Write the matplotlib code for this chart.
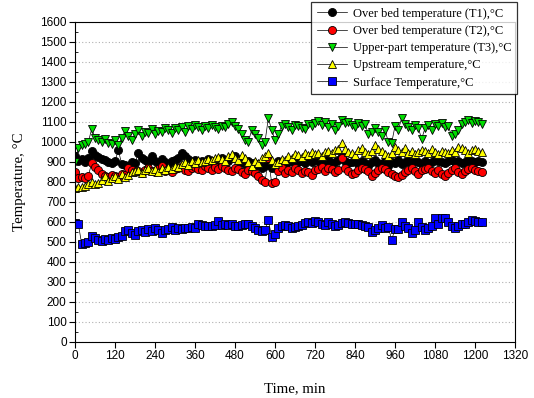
import matplotlib
matplotlib.use('Agg')
import matplotlib.pyplot as plt
import numpy as np
from matplotlib.ticker import MultipleLocator

# readings every 10 min, 0 .. 1220 min
interval = 10

t1_over_bed = [930, 905, 915, 900, 920, 955, 935, 925, 915, 910,
               900, 895, 905, 960, 890, 885, 880, 900, 895, 945,
               920, 910, 900, 930, 905, 895, 915, 900, 890, 905,
               910, 920, 945, 930, 915, 900, 910, 895, 905, 900,
               915, 905, 900, 910, 920, 895, 905, 920, 930, 910,
               900, 890, 905, 895, 880, 890, 870, 880, 900, 870,
               890, 905, 895, 880, 900, 910, 890, 900, 905, 895,
               910, 900, 920, 905, 890, 900, 915, 895, 900, 910,
               930, 905, 895, 900, 910, 890, 905, 895, 880, 900,
               910, 895, 890, 905, 880, 900, 895, 910, 890, 900,
               905, 895, 910, 900, 890, 905, 895, 900, 910, 905,
               900, 895, 905, 910, 900, 905, 895, 900, 910, 905,
               900, 905, 900]

t2_over_bed = [850, 820, 825, 820, 830, 895, 875, 860, 840, 830,
               825, 835, 830, 825, 840, 835, 870, 860, 850, 855,
               845, 860, 870, 855, 850, 865, 880, 855, 860, 850,
               865, 870, 880, 860, 855, 870, 875, 865, 860, 880,
               870, 860, 875, 865, 880, 870, 860, 855, 870, 865,
               850, 840, 860, 855, 845, 830, 810, 800, 920, 795,
               800, 855, 870, 845, 860, 850, 870, 860, 845, 855,
               850, 835, 860, 865, 875, 855, 870, 865, 850, 860,
               920, 870, 855, 840, 845, 860, 870, 865, 855, 830,
               845, 860, 870, 865, 850, 840, 830, 825, 835, 850,
               860, 870, 855, 840, 860, 865, 870, 855, 845, 860,
               840, 830, 845, 860, 870, 850, 840, 855, 865, 870,
               860, 855, 850]

t3_upper = [900, 970, 985, 990, 1000, 1065, 1020, 1010, 1000, 1015,
            995, 990, 1010, 985, 1020, 1055, 1030, 1010, 1040, 1060,
            1030, 1050, 1045, 1065, 1040, 1055, 1050, 1070, 1060, 1045,
            1070, 1060, 1075, 1050, 1080, 1065, 1085, 1075, 1060, 1080,
            1070, 1085, 1075, 1065, 1080, 1075, 1090, 1100, 1080, 1065,
            1040, 1010, 1000, 1060, 1040, 1020, 985, 1000, 1120, 1060,
            1010, 1040, 1080, 1090, 1075, 1060, 1085, 1080, 1070, 1065,
            1090, 1080, 1095, 1105, 1085, 1100, 1075, 1090, 1060, 1080,
            1110, 1095, 1100, 1085, 1075, 1095, 1080, 1090, 1040, 1050,
            1070, 1050, 1030, 1060, 1000, 995, 1080, 1060, 1120, 1090,
            1075, 1060, 1085, 1070, 1015, 1070, 1085, 1060, 1090, 1080,
            1095, 1075, 1080, 1030, 1040, 1060, 1090, 1100, 1110, 1095,
            1105, 1100, 1090]

upstream = [770, 775, 775, 780, 790, 800, 790, 795, 810, 830,
            805, 820, 830, 815, 840, 825, 835, 850, 855, 860,
            845, 860, 870, 855, 865, 850, 870, 860, 875, 865,
            880, 875, 890, 900, 885, 905, 895, 910, 900, 905,
            915, 910, 920, 925, 915, 905, 930, 940, 920, 910,
            935, 920, 900, 880, 905, 895, 920, 930, 945, 910,
            890, 900, 915, 910, 930, 920, 940, 935, 925, 945,
            935, 950, 940, 945, 930, 950, 955, 945, 960, 965,
            995, 965, 950, 945, 935, 960, 970, 950, 940, 955,
            985, 965, 955, 940, 930, 945, 975, 960, 950, 970,
            945, 955, 940, 950, 960, 955, 945, 965, 950, 940,
            955, 950, 945, 960, 950, 975, 970, 960, 945, 960,
            965, 955, 950]

surface = [595, 590, 490, 495, 500, 530, 520, 510, 505, 515,
           510, 520, 515, 525, 530, 555, 560, 545, 535, 555,
           560, 550, 565, 555, 570, 560, 545, 560, 565, 575,
           560, 570, 565, 570, 570, 575, 570, 590, 585, 580,
           580, 580, 585, 605, 585, 590, 585, 590, 580, 580,
           585, 590, 590, 580, 570, 560, 555, 560, 610, 525,
           540, 570, 580, 585, 580, 570, 575, 580, 585, 595,
           600, 595, 605, 600, 590, 585, 600, 590, 580, 585,
           595, 600, 595, 590, 590, 590, 585, 580, 575, 550,
           560, 570, 585, 570, 575, 510, 565, 565, 600, 580,
           570, 545, 560, 600, 575, 560, 570, 580, 620, 590,
           620, 620, 600, 580, 570, 580, 590, 590, 600, 610,
           605, 600, 600]

time_min = np.arange(len(surface)) * interval

series = [
    (t1_over_bed, 'o', 'black', 'Over bed temperature (T1),°C'),
    (t2_over_bed, 'o', 'red', 'Over bed temperature (T2),°C'),
    (t3_upper, 'v', '#00dd00', 'Upper-part temperature (T3),°C'),
    (upstream, '^', 'yellow', 'Upstream temperature,°C'),
    (surface, 's', 'blue', 'Surface Temperature,°C'),
]

fig = plt.figure(figsize=(5.34, 3.98), dpi=100)
ax = fig.add_axes([75/534, 56/398, 440/534, 320/398])

for vals, mk, col, lab in series:
    ax.plot(time_min, vals, '-', color='black', lw=0.5, marker=mk,
            markerfacecolor=col, markeredgecolor='black', markeredgewidth=0.6,
            markersize=5.8, label=lab)

ax.set_xlim(0, 1320)
ax.set_ylim(0, 1600)
ax.xaxis.set_major_locator(MultipleLocator(120))
ax.yaxis.set_major_locator(MultipleLocator(100))
ax.yaxis.set_minor_locator(MultipleLocator(50))
ax.tick_params(axis='both', which='major', direction='out', length=4, width=0.8,
               labelsize=8.5, pad=2)
ax.tick_params(axis='y', which='minor', direction='in', length=2, width=0.6)
for lbl in ax.get_xticklabels() + ax.get_yticklabels():
    lbl.set_family('Liberation Sans')

ax.grid(True, axis='y', which='major', color='#b0b0b0', linestyle=(0, (1, 2)), lw=0.8)
ax.set_axisbelow(True)

for sp in ax.spines.values():
    sp.set_linewidth(0.8)

ax.set_xlabel('Time, min', family='Liberation Serif', fontsize=10.7, labelpad=14)
ax.set_ylabel('Temperature, °C', family='Liberation Serif', fontsize=10.7, labelpad=10)

leg = fig.legend(loc='upper right', bbox_to_anchor=(517/534, 1 - 2/398),
                 prop={'family': 'Liberation Serif', 'size': 9},
                 frameon=True, fancybox=False, edgecolor='black',
                 handlelength=2.4, handletextpad=0.5, borderpad=0.45,
                 labelspacing=0.42, borderaxespad=0, shadow=False)
leg.get_frame().set_linewidth(0.9)

fig.savefig('out.png', dpi=100)
